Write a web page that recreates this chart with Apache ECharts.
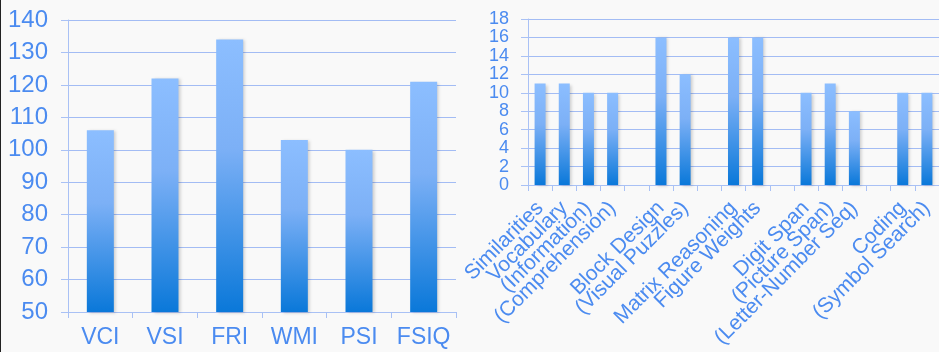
<!DOCTYPE html>
<html>
<head>
<meta charset="utf-8">
<script src="https://cdn.jsdelivr.net/npm/echarts@6/dist/echarts.min.js"></script>
<style>
  html, body { margin: 0; padding: 0; background: #f9f9f9; }
  #chart { width: 939px; height: 352px; box-sizing: border-box; border-left: 1px solid #222; }
</style>
</head>
<body>
<div id="chart"></div>
<script>
// Index scores (left panel)
const indexCategories = ['VCI', 'VSI', 'FRI', 'WMI', 'PSI', 'FSIQ'];
const indexValues = [106, 122, 134, 103, 100, 121];

// Subtest scaled scores (right panel); empty strings are spacer columns
const subtestCategories = [
  'Similarities', 'Vocabulary', '(Information)', '(Comprehension)', '',
  'Block Design', '(Visual Puzzles)', '',
  'Matrix Reasoning', 'Figure Weights', '',
  'Digit Span', '(Picture Span)', '(Letter-Number Seq)', '',
  'Coding', '(Symbol Search)'
];
const subtestValues = [11, 11, 10, 10, null, 16, 12, null, 16, 16, null, 10, 11, 8, null, 10, 10];

const labelColor = '#4b8bf0';
const gridColor = '#a3bcf4';
const axisColor = '#a9c1f5';
const fontFam = '"Liberation Sans", Arial, sans-serif';

const barStyle = {
  color: {
    type: 'linear', x: 0, y: 0, x2: 0, y2: 1,
    colorStops: [
      { offset: 0, color: '#8cbeff' },
      { offset: 0.4, color: '#7cb0f6' },
      { offset: 1, color: '#0a78d9' }
    ]
  },
  shadowColor: 'rgba(0,0,0,0.18)',
  shadowBlur: 3,
  shadowOffsetX: 2,
  shadowOffsetY: 1
};

const chart = echarts.init(document.getElementById('chart'), null, { renderer: 'canvas' });
chart.setOption({
  backgroundColor: '#f9f9f9',
  animation: false,
  grid: [
    { left: 67, right: 483, top: 20, bottom: 40, containLabel: false },
    { left: 527, right: -3, top: 19, bottom: 167, containLabel: false }
  ],
  xAxis: [
    {
      gridIndex: 0, type: 'category', data: indexCategories,
      axisLine: { lineStyle: { color: axisColor, width: 1 } },
      axisTick: { show: true, length: 6, lineStyle: { color: axisColor } },
      axisLabel: { color: labelColor, fontSize: 23, fontFamily: fontFam, margin: 14, interval: 0, hideOverlap: false }
    },
    {
      gridIndex: 1, type: 'category', data: subtestCategories,
      axisLine: { lineStyle: { color: axisColor, width: 1 } },
      axisTick: { show: true, length: 6, lineStyle: { color: axisColor } },
      axisLabel: { color: labelColor, fontSize: 21, fontFamily: fontFam, rotate: 45, interval: 0, margin: 20, hideOverlap: false }
    }
  ],
  yAxis: [
    {
      gridIndex: 0, type: 'value', min: 50, max: 140, interval: 10,
      axisLine: { show: true, lineStyle: { color: axisColor } },
      axisTick: { show: true, length: 7, lineStyle: { color: axisColor } },
      splitLine: { lineStyle: { color: gridColor, width: 1 } },
      axisLabel: { color: labelColor, fontSize: 24, fontFamily: fontFam, margin: 20, showMinLabel: true, showMaxLabel: true, hideOverlap: false }
    },
    {
      gridIndex: 1, type: 'value', min: 0, max: 18, interval: 2,
      axisLine: { show: true, lineStyle: { color: axisColor } },
      axisTick: { show: true, length: 7, lineStyle: { color: axisColor } },
      splitLine: { lineStyle: { color: gridColor, width: 1 } },
      axisLabel: { color: labelColor, fontSize: 18, fontFamily: fontFam, margin: 19, showMinLabel: true, showMaxLabel: true, hideOverlap: false }
    }
  ],
  series: [
    {
      type: 'bar', xAxisIndex: 0, yAxisIndex: 0, data: indexValues,
      barWidth: 27, itemStyle: barStyle
    },
    {
      type: 'bar', xAxisIndex: 1, yAxisIndex: 1, data: subtestValues,
      barWidth: 11, itemStyle: barStyle
    }
  ]
});
</script>
</body>
</html>
